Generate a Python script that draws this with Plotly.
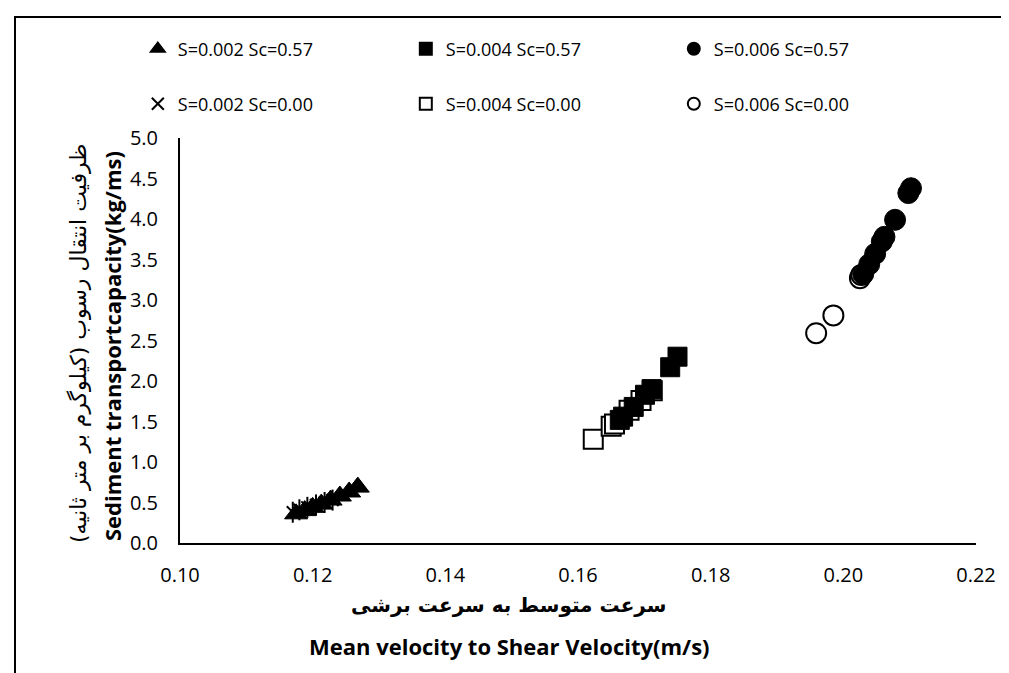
import plotly.graph_objects as go

# ---- data ----
tri_x = [0.1175, 0.1188, 0.1200, 0.1213, 0.1227, 0.1241, 0.1255, 0.1268]
tri_y = [0.36, 0.40, 0.44, 0.48, 0.53, 0.58, 0.63, 0.69]

ast_x = [0.1170, 0.1180, 0.1192, 0.1205, 0.1218, 0.1230]
ast_y = [0.38, 0.41, 0.44, 0.47, 0.50, 0.53]

sqf_x = [0.1663, 0.1668, 0.1684, 0.1701, 0.1711, 0.1739, 0.1750]
sqf_y = [1.52, 1.56, 1.68, 1.83, 1.90, 2.17, 2.30]

sqo_x = [0.1623, 0.1650, 0.1655, 0.1677, 0.1695, 0.1712]
sqo_y = [1.28, 1.44, 1.47, 1.64, 1.76, 1.88]

cif_x = [0.2030, 0.2039, 0.2048, 0.2058, 0.2062, 0.2078, 0.2098, 0.2102]
cif_y = [3.32, 3.44, 3.57, 3.72, 3.78, 3.99, 4.32, 4.38]

cio_x = [0.1959, 0.1985, 0.2025, 0.2027]
cio_y = [2.59, 2.81, 3.27, 3.31]

names = ["S=0.002 Sc=0.57", "S=0.004 Sc=0.57", "S=0.006 Sc=0.57",
         "S=0.002 Sc=0.00", "S=0.004 Sc=0.00", "S=0.006 Sc=0.00"]

x_ticks = [0.10, 0.12, 0.14, 0.16, 0.18, 0.20, 0.22]
y_ticks = [0.0, 0.5, 1.0, 1.5, 2.0, 2.5, 3.0, 3.5, 4.0, 4.5, 5.0]

FONT = "Open Sans"
FA = "DejaVu Sans"

fig = go.Figure()

# open series (drawn first, beneath)
fig.add_trace(go.Scatter(x=ast_x, y=ast_y, mode="markers", name=names[3], legend="legend2",
                         legendgroup="a",
                         marker=dict(symbol="x-thin-open", size=12, color="black",
                                     line=dict(color="black", width=2))))
fig.add_trace(go.Scatter(x=ast_x, y=ast_y, mode="markers", name=names[3], legend="legend2",
                         legendgroup="a", showlegend=False,
                         marker=dict(symbol="line-ns-open", size=15, color="black",
                                     line=dict(color="black", width=2))))
fig.add_trace(go.Scatter(x=sqo_x, y=sqo_y, mode="markers", name=names[4], legend="legend2",
                         marker=dict(symbol="square", size=19, color="white",
                                     line=dict(color="black", width=2))))
fig.add_trace(go.Scatter(x=cio_x, y=cio_y, mode="markers", name=names[5], legend="legend2",
                         marker=dict(symbol="circle", size=20, color="white",
                                     line=dict(color="black", width=2))))
# filled series
fig.add_trace(go.Scatter(x=tri_x, y=tri_y, mode="markers", name=names[0], legend="legend",
                         marker=dict(symbol="triangle-up", size=20, color="black",
                                     line=dict(color="black", width=1))))
fig.add_trace(go.Scatter(x=sqf_x, y=sqf_y, mode="markers", name=names[1], legend="legend",
                         marker=dict(symbol="square", size=19, color="black",
                                     line=dict(color="black", width=1))))
fig.add_trace(go.Scatter(x=cif_x, y=cif_y, mode="markers", name=names[2], legend="legend",
                         marker=dict(symbol="circle", size=21, color="black",
                                     line=dict(color="black", width=1))))

W, H = 1009, 673
L, R, T, B = 172, 41, 130, 138

leg_common = dict(orientation="h", xanchor="left", yanchor="middle",
                  entrywidth=223, entrywidthmode="pixels", itemwidth=30,
                  font=dict(family=FONT, size=18, color="black"),
                  bgcolor="rgba(0,0,0,0)", tracegroupgap=0, itemsizing="constant")

fig.update_layout(
    width=W, height=H,
    margin=dict(l=L, r=R, t=T, b=B, autoexpand=False),
    paper_bgcolor="white", plot_bgcolor="white",
    font=dict(family=FONT, size=20, color="black"),
    legend=dict(x=-0.053, y=(535 - 41) / 405, **leg_common),
    legend2=dict(x=-0.053, y=(535 - 96) / 405, **leg_common),
    xaxis=dict(range=[0.10, 0.22], tickvals=x_ticks, tickformat=".2f",
               showgrid=False, zeroline=False, showline=True, linecolor="black",
               linewidth=2, ticks="", ticklabelstandoff=13,
               tickfont=dict(family=FONT, size=20, color="black")),
    yaxis=dict(range=[0, 5], tickvals=y_ticks, tickformat=".1f",
               showgrid=False, zeroline=False, showline=True, linecolor="black",
               linewidth=2, ticks="", ticklabelstandoff=16,
               tickfont=dict(family=FONT, size=20, color="black")),
    showlegend=True,
)

def px_x(px):
    return (px - L) / (W - L - R)

def px_y(py):
    return (H - B - py) / (H - T - B)

annos = [
    dict(text="<b>سرعت متوسط به سرعت برشی</b>", x=px_x(500), y=px_y(597),
         font=dict(family=FA, size=20, color="black")),
    dict(text="<b>Mean velocity to Shear Velocity(m/s)</b>", x=px_x(501), y=px_y(638),
         font=dict(family=FONT, size=22, color="black")),
    dict(text="ظرفیت انتقال رسوب (کیلوگرم بر متر ثانیه)", x=px_x(70), y=px_y(335),
         textangle=-90, font=dict(family=FA, size=22, color="black")),
    dict(text="<b>Sediment transportcapacity(kg/ms)</b>", x=px_x(104), y=px_y(338),
         textangle=-90, font=dict(family=FONT, size=22, color="black")),
]
for a in annos:
    a.update(xref="paper", yref="paper", showarrow=False, xanchor="center", yanchor="middle")
fig.update_layout(annotations=annos)

# outer chart frame (left, top, right edges)
fig.add_shape(type="path", xref="paper", yref="paper",
              path=f"M {px_x(7)} {px_y(H + 5)} L {px_x(7)} {px_y(9)} L {px_x(1001)} {px_y(9)} L {px_x(1001)} {px_y(H + 5)}",
              line=dict(color="black", width=2))

fig.write_html("out.html")
